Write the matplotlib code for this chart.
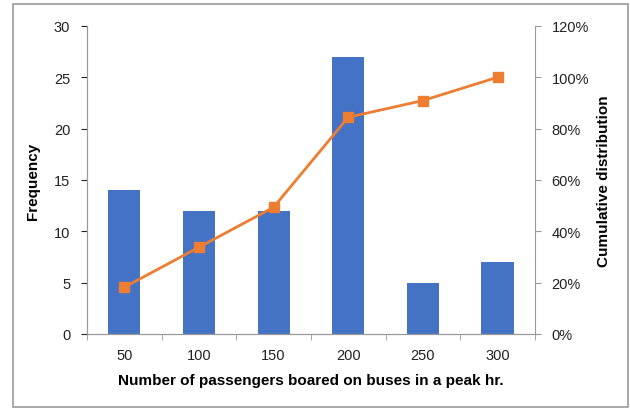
import numpy as np
import matplotlib.pyplot as plt
from matplotlib.patches import Rectangle

# passengers boarded per bus in the peak hour
categories = ['50', '100', '150', '200', '250', '300']
frequency = [14, 12, 12, 27, 5, 7]
cumulative = np.cumsum(frequency) / np.sum(frequency) * 100

plt.rcParams['font.family'] = ['Liberation Sans', 'DejaVu Sans']

fig = plt.figure(figsize=(6.3, 4.14), dpi=100)
ax = fig.add_axes([0.138, 0.191, 0.711, 0.744])
x = np.arange(len(categories))

ax.bar(x, frequency, width=0.43, color='#4472C4', zorder=2)
ax.set_xlim(-0.5, len(categories) - 0.5)
ax.set_ylim(0, 30)
ax.set_yticks(np.arange(0, 31, 5))
ax.set_xticks(x)
ax.set_xticklabels(categories)
ax.set_xticks(np.arange(-0.5, len(categories)), minor=True)
ax.tick_params(axis='x', which='major', length=0, pad=10)
ax.tick_params(axis='x', which='minor', length=4, color='#999999')
ax.tick_params(axis='y', length=4, color='#999999', pad=8)
ax.tick_params(labelsize=10.5, colors='#222222')

ax2 = ax.twinx()
ax2.plot(x, cumulative, color='#ED7D31', lw=2, marker='s', ms=6.5, zorder=3)
ax2.set_ylim(0, 120)
ax2.set_yticks(np.arange(0, 121, 20))
ax2.set_yticklabels(['%d%%' % v for v in range(0, 121, 20)])
ax2.tick_params(axis='y', length=4, color='#999999', pad=8, labelsize=10.5, colors='#222222')

for a in (ax, ax2):
    a.spines['top'].set_visible(False)
    for s in ('left', 'right', 'bottom'):
        a.spines[s].set_color('#999999')
ax.spines['right'].set_visible(False)

ax.set_ylabel('Frequency', fontsize=11, fontweight='bold', labelpad=10)
ax2.set_ylabel('Cumulative distribution', fontsize=11, fontweight='bold', labelpad=6)
ax.set_xlabel('Number of passengers boared on buses in a peak hr.', fontsize=11,
              fontweight='bold', labelpad=8)

# outer chart border
fig.patches.append(Rectangle((13 / 630, 6 / 414), 615 / 630, 403 / 414, transform=fig.transFigure,
                             fill=False, edgecolor='#999999', lw=1.2))

fig.savefig('out.png', dpi=100)
